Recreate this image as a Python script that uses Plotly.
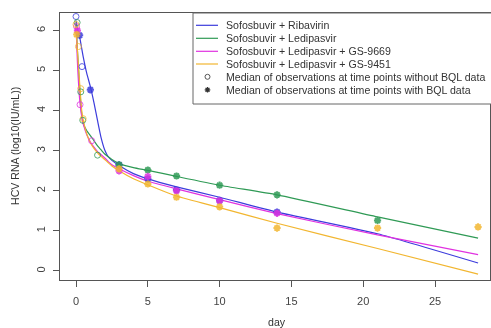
import plotly.graph_objects as go

# ---------------- data ----------------
series_names = ["Sofosbuvir + Ribavirin", "Sofosbuvir + Ledipasvir",
                "Sofosbuvir + Ledipasvir + GS-9669", "Sofosbuvir + Ledipasvir + GS-9451"]
series_colors = ["#3c3cdc", "#2f9a55", "#e032e0", "#f2b630"]

# model prediction curves
pred_days = [0, 0.1, 0.25, 0.4, 0.5, 0.75, 1, 1.25, 1.5, 1.75, 2, 2.25, 2.5, 3, 4, 5, 7, 10, 14, 21, 28]
pred_rbv = [6.25, 6.05, 5.85, 5.55, 5.35, 4.93, 4.6, 4.2, 3.75, 3.32, 3.02, 2.85, 2.76, 2.63, 2.43, 2.3, 2.1, 1.84, 1.47, 0.93, 0.2]
pred_ldv = [6.2, 5.5, 4.6, 3.9, 3.68, 3.5, 3.38, 3.25, 3.12, 3.02, 2.92, 2.85, 2.78, 2.68, 2.58, 2.51, 2.36, 2.14, 1.9, 1.35, 0.82]
pred_9669 = [6.15, 5.2, 4.3, 3.85, 3.68, 3.4, 3.22, 3.09, 2.98, 2.9, 2.82, 2.73, 2.65, 2.55, 2.38, 2.24, 2.05, 1.78, 1.43, 0.9, 0.41]
pred_9451 = [6.1, 5.5, 4.7, 4.0, 3.78, 3.42, 3.2, 3.06, 2.95, 2.86, 2.78, 2.7, 2.62, 2.5, 2.3, 2.15, 1.87, 1.58, 1.19, 0.56, -0.08]

# medians of observations, time points without BQL data (open circles)
obs_open_days = [[0, 0.42], [0.08, 0.33, 0.47, 1.5], [0.04, 0.28, 1.09], [0, 0.17, 0.33, 0.5]]
obs_open_vals = [[6.35, 5.1], [6.2, 4.47, 3.76, 2.89], [6.1, 4.15, 3.25], [6.15, 5.6, 4.55, 3.8]]

# medians of observations, time points with BQL data (asterisks)
obs_bql_days = [[0.25, 1, 3, 5, 7, 10, 14], [3, 5, 7, 10, 14, 21],
                [0.1, 3, 5, 7, 10, 14], [0.05, 3, 5, 7, 10, 14, 21, 28]]
obs_bql_vals = [[5.88, 4.52, 2.65, 2.3, 2.02, 1.76, 1.47], [2.65, 2.52, 2.37, 2.14, 1.9, 1.26],
                [6.0, 2.5, 2.36, 2.0, 1.75, 1.44], [5.9, 2.55, 2.17, 1.84, 1.6, 1.07, 1.07, 1.1]]

preds = [pred_rbv, pred_ldv, pred_9669, pred_9451]

x_ticks = [0, 5, 10, 15, 20, 25]
y_ticks = [0, 1, 2, 3, 4, 5, 6]
x_title = "day"
y_title = "HCV RNA (log10(IU/mL))"
legend_marker_labels = ["Median of observations at time points without BQL data",
                        "Median of observations at time points with BQL data"]

# ---------------- figure ----------------
W, H = 491, 328
ML, MR, MT, MB = 60, 1, 13, 48
PW, PH = W - ML - MR, H - MT - MB
FONT = "Liberation Sans, Arial, sans-serif"

fig = go.Figure()
for i in range(4):
    fig.add_trace(go.Scatter(x=pred_days, y=preds[i], mode="lines",
                             line=dict(color=series_colors[i], width=1.2, shape="spline", smoothing=0.5),
                             showlegend=False, hoverinfo="skip"))
for i in range(4):
    fig.add_trace(go.Scatter(x=obs_open_days[i], y=obs_open_vals[i], mode="markers",
                             marker=dict(symbol="circle-open", size=6, color=series_colors[i],
                                         line=dict(width=1, color=series_colors[i])),
                             opacity=0.8, showlegend=False))
    fig.add_trace(go.Scatter(x=obs_bql_days[i], y=obs_bql_vals[i], mode="markers",
                             marker=dict(symbol="asterisk-open", size=6, color=series_colors[i],
                                         line=dict(width=2, color=series_colors[i])),
                             opacity=0.85, showlegend=False))

axis_common = dict(showline=True, linecolor="#555", linewidth=1, mirror=True,
                   ticks="outside", ticklen=6, tickcolor="#555", showgrid=False,
                   zeroline=False, automargin=False,
                   tickfont=dict(size=11, color="#444", family=FONT))
fig.update_xaxes(range=[-1.114, 28.83], tickvals=x_ticks, ticklabelstandoff=5, **axis_common)
fig.update_yaxes(range=[-0.225, 6.4375], tickvals=y_ticks, tickangle=-90, ticklabelstandoff=4,
                 **axis_common)

# ---------------- legend (drawn manually) ----------------
def px_x(p):
    return (p - ML) / PW

def px_y(p):
    return (H - MB - p) / PH

LFS = 10.6
shapes = [dict(type="rect", xref="paper", yref="paper", x0=px_x(193), x1=px_x(495),
               y0=px_y(104), y1=px_y(13), line=dict(color="#666", width=1),
               fillcolor="white", layer="above")]
annotations = [
    dict(xref="paper", yref="paper", x=px_x(277), y=px_y(322), text=x_title, showarrow=False,
         xanchor="center", yanchor="middle", font=dict(size=LFS, color="#333", family=FONT)),
    dict(xref="paper", yref="paper", x=px_x(15), y=px_y(146), text=y_title, showarrow=False,
         textangle=-90, xanchor="center", yanchor="middle", font=dict(size=LFS, color="#333", family=FONT)),
]
row_y = [25.3, 38.3, 51.3, 64.0, 76.8, 89.8]
labels = series_names + legend_marker_labels
for k, lab in enumerate(labels):
    yy = row_y[k]
    if k < 4:
        shapes.append(dict(type="line", xref="paper", yref="paper", x0=px_x(196), x1=px_x(218),
                           y0=px_y(yy), y1=px_y(yy), line=dict(color=series_colors[k], width=1.2),
                           layer="above"))
    elif k == 4:
        shapes.append(dict(type="circle", xref="paper", yref="paper", x0=px_x(205), x1=px_x(210),
                           y0=px_y(yy + 2.5), y1=px_y(yy - 2.5), line=dict(color="#555", width=1),
                           layer="above"))
    else:
        cx, cy, r = 207.5, yy, 2.8
        path = (f"M {px_x(cx - r)},{px_y(cy)} L {px_x(cx + r)},{px_y(cy)} "
                f"M {px_x(cx)},{px_y(cy - r)} L {px_x(cx)},{px_y(cy + r)} "
                f"M {px_x(cx - r * 0.7)},{px_y(cy - r * 0.7)} L {px_x(cx + r * 0.7)},{px_y(cy + r * 0.7)} "
                f"M {px_x(cx - r * 0.7)},{px_y(cy + r * 0.7)} L {px_x(cx + r * 0.7)},{px_y(cy - r * 0.7)}")
        shapes.append(dict(type="path", xref="paper", yref="paper", path=path,
                           line=dict(color="#333", width=1.3), layer="above"))
    annotations.append(dict(xref="paper", yref="paper", x=px_x(224), y=px_y(yy),
                            xanchor="left", yanchor="middle", text=lab, showarrow=False,
                            font=dict(size=LFS, color="#333", family=FONT)))

fig.update_layout(width=W, height=H, margin=dict(l=ML, r=MR, t=MT, b=MB),
                  plot_bgcolor="white", paper_bgcolor="white",
                  font=dict(family=FONT),
                  shapes=shapes, annotations=annotations, showlegend=False)

fig.write_html("out.html", config={"displayModeBar": False},
               post_script="document.body.style.margin='0';document.body.style.overflow='hidden';")
